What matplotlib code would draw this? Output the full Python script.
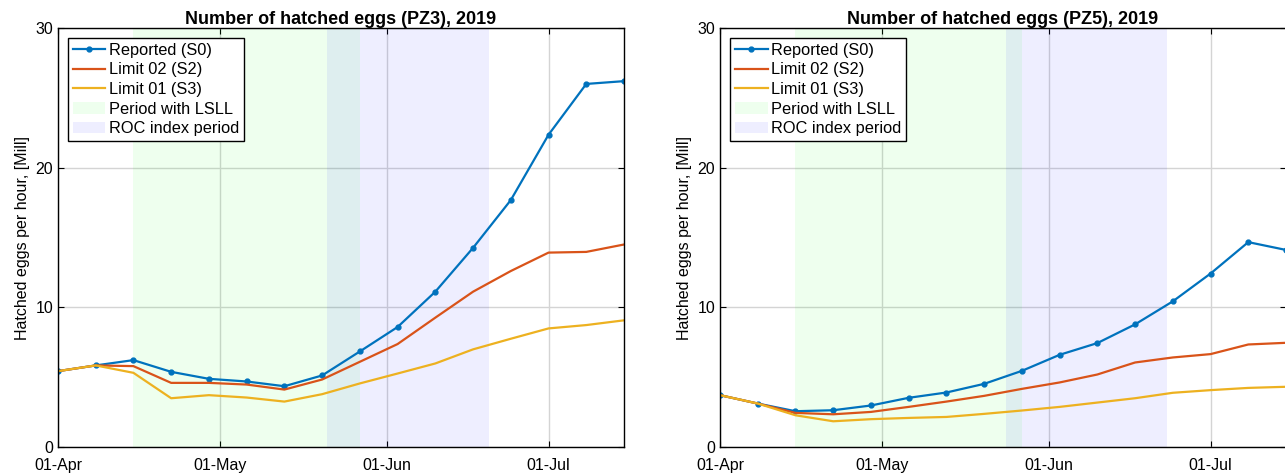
import datetime as dt
import matplotlib
matplotlib.use("Agg")
import matplotlib.pyplot as plt
import matplotlib.dates as mdates

plt.rcParams['font.family'] = ['Liberation Sans', 'DejaVu Sans']

# weekly dates, 01-Apr .. 15-Jul 2019
start = dt.datetime(2019, 4, 1)
dates = [start + dt.timedelta(days=7 * i) for i in range(16)]

# PZ3
pz3_s0 = [5.43, 5.84, 6.22, 5.38, 4.88, 4.69, 4.35, 5.12, 6.84, 8.59, 11.12, 14.26, 17.68, 22.36, 26.0, 26.2]
pz3_s2 = [5.43, 5.84, 5.79, 4.59, 4.59, 4.47, 4.11, 4.83, 6.1, 7.37, 9.26, 11.12, 12.6, 13.92, 13.97, 14.5]
pz3_s3 = [5.43, 5.84, 5.31, 3.49, 3.71, 3.54, 3.25, 3.78, 4.55, 5.26, 5.98, 6.99, 7.75, 8.49, 8.73, 9.07]
pz3_lsll = (dt.datetime(2019, 4, 15), dt.datetime(2019, 5, 27))
pz3_roc = (dt.datetime(2019, 5, 21), dt.datetime(2019, 6, 20))

# PZ5
pz5_s0 = [3.71, 3.11, 2.56, 2.63, 2.97, 3.52, 3.9, 4.52, 5.45, 6.6, 7.44, 8.78, 10.43, 12.42, 14.67, 14.11]
pz5_s2 = [3.71, 3.11, 2.44, 2.34, 2.51, 2.87, 3.25, 3.66, 4.16, 4.62, 5.19, 6.05, 6.41, 6.65, 7.34, 7.46]
pz5_s3 = [3.71, 3.11, 2.27, 1.84, 1.99, 2.08, 2.15, 2.37, 2.61, 2.87, 3.18, 3.49, 3.88, 4.07, 4.23, 4.31]
pz5_lsll = (dt.datetime(2019, 4, 15), dt.datetime(2019, 5, 27))
pz5_roc = (dt.datetime(2019, 5, 24), dt.datetime(2019, 6, 23))

tick_dates = [dt.datetime(2019, 4, 1), dt.datetime(2019, 5, 1), dt.datetime(2019, 6, 1), dt.datetime(2019, 7, 1)]


def panel(ax, title, s0, s2, s3, lsll, roc):
    ax.axvspan(lsll[0], lsll[1], color=(0, 1, 0), alpha=0.065, lw=0, label='Period with LSLL')
    ax.axvspan(roc[0], roc[1], color=(0, 0, 1), alpha=0.065, lw=0, label='ROC index period')
    ax.plot(dates, s0, color='#0072BD', lw=1.6, marker='.', ms=7, label='Reported (S0)')
    ax.plot(dates, s2, color='#D95319', lw=1.6, label='Limit 02 (S2)')
    ax.plot(dates, s3, color='#EDB120', lw=1.6, label='Limit 01 (S3)')
    h, lab = ax.get_legend_handles_labels()
    order = [2, 3, 4, 0, 1]
    ax.legend([h[i] for i in order], [lab[i] for i in order], loc='upper left',
              fancybox=False, edgecolor='black', framealpha=1, fontsize=11.8,
              labelspacing=0.28, handlelength=2.0, handletextpad=0.2,
              borderpad=0.3, borderaxespad=0.6)
    ax.set_xlim(dt.datetime(2019, 4, 1), dt.datetime(2019, 7, 15))
    ax.set_ylim(0, 30)
    ax.set_yticks([0, 10, 20, 30])
    ax.set_xticks(tick_dates)
    ax.xaxis.set_major_formatter(mdates.DateFormatter('%d-%b'))
    ax.grid(True, color='#d4d4d4', lw=1)
    ax.set_axisbelow(True)
    ax.tick_params(direction='in', top=True, right=True, labelsize=11.5, length=4)
    ax.tick_params(axis='x', pad=8)
    ax.set_ylabel('Hatched eggs per hour, [Mill]', fontsize=11.5)
    ax.set_title(title, fontsize=13, fontweight='bold', pad=3)
    for s in ax.spines.values():
        s.set_linewidth(1.0)


fig = plt.figure(figsize=(12.85, 4.76), dpi=100)
ax1 = fig.add_axes([0.0451, 0.061, 0.4405, 0.880])
ax2 = fig.add_axes([0.5603, 0.061, 0.4405, 0.880])

panel(ax1, 'Number of hatched eggs (PZ3), 2019', pz3_s0, pz3_s2, pz3_s3, pz3_lsll, pz3_roc)
panel(ax2, 'Number of hatched eggs (PZ5), 2019', pz5_s0, pz5_s2, pz5_s3, pz5_lsll, pz5_roc)

fig.savefig('out.png', dpi=100)
